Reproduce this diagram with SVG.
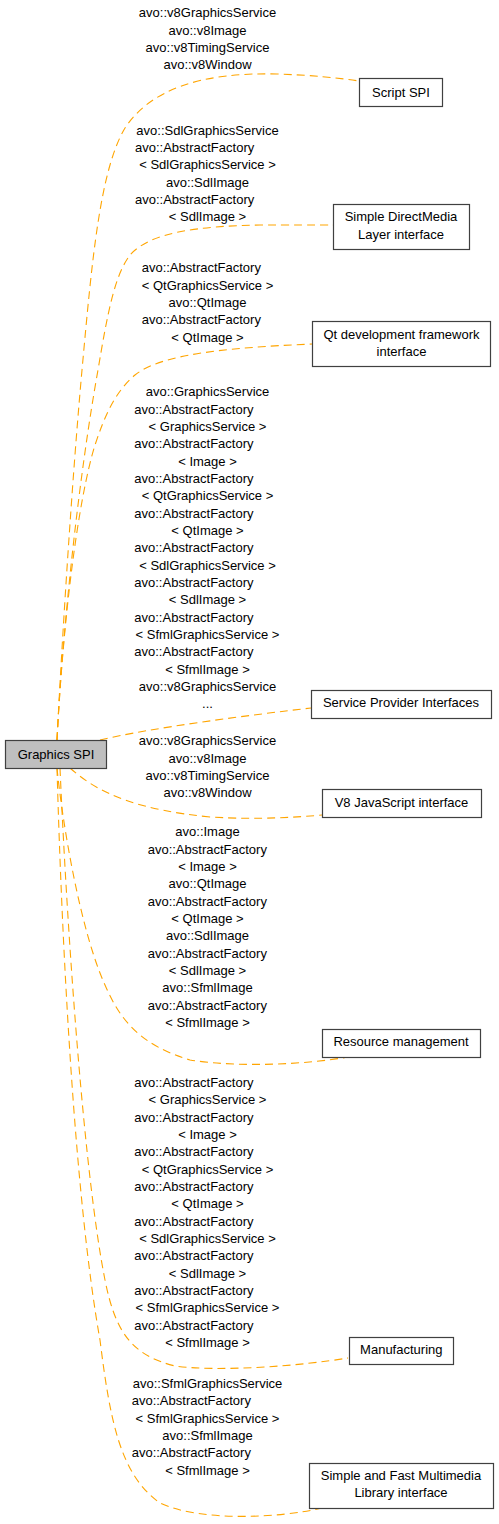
<svg xmlns="http://www.w3.org/2000/svg" width="499" height="1524" viewBox="0 0 499 1524">
<style>
.edge{fill:none;stroke:#FFA500;stroke-width:1.1;stroke-dasharray:8,5}
.node rect{fill:#ffffff;stroke:#404040;stroke-width:1.2}
#n_graphics rect{fill:#bfbfbf}
text{font-family:"Liberation Sans",Arial,sans-serif;font-size:13px;fill:#000}
.c{text-anchor:middle}
.l{text-anchor:start}
</style>
<rect width="499" height="1524" fill="#ffffff"/>
<g id="edges">
<path class="edge" d="M57,740 C62,640 72,480 82,370 C92,260 100,170 125,128 C150,90 200,72 277,74 C310,75 340,78 359,81"/>
<path class="edge" d="M57,740 C63,620 80,470 98,370 C108,310 115,275 130,255 C150,232 200,226 260,225 C290,225 315,225 333,225"/>
<path class="edge" d="M57,740 C63,620 78,500 95,445 C105,415 115,392 135,375 C160,355 220,348 312,344"/>
<path class="edge" d="M100,740 C150,728 250,715 311,708"/>
<path class="edge" d="M70,768 C100,795 140,810 210,817 C260,820 300,817 322,815"/>
<path class="edge" d="M57,768 C62,820 80,930 105,985 C120,1020 140,1045 190,1060 C240,1068 310,1064 348,1057"/>
<path class="edge" d="M60,768 C68,950 85,1180 105,1280 C115,1330 130,1355 175,1366 C220,1372 300,1366 348,1358"/>
<path class="edge" d="M57,768 C62,950 75,1200 100,1340 C110,1420 120,1475 160,1503 C200,1522 280,1518 322,1508"/>
</g>
<g id="edge_labels">
<g id="lbl_script">
<text class="c" x="207.5" y="17.4">avo::v8GraphicsService</text>
<text class="c" x="207.5" y="34.7">avo::v8Image</text>
<text class="c" x="207.5" y="52.1">avo::v8TimingService</text>
<text class="c" x="207.5" y="69.4">avo::v8Window</text>
</g>
<g id="lbl_sdl">
<text class="c" x="207.5" y="134.7">avo::SdlGraphicsService</text>
<text class="l" x="135" y="152">avo::AbstractFactory</text>
<text class="c" x="207.5" y="169.4">&lt; SdlGraphicsService &gt;</text>
<text class="c" x="207.5" y="186.7">avo::SdlImage</text>
<text class="l" x="135" y="204">avo::AbstractFactory</text>
<text class="c" x="207.5" y="221.4">&lt; SdlImage &gt;</text>
</g>
<g id="lbl_qt">
<text class="l" x="141.7" y="272.4">avo::AbstractFactory</text>
<text class="c" x="207.5" y="289.7">&lt; QtGraphicsService &gt;</text>
<text class="c" x="207.5" y="307.1">avo::QtImage</text>
<text class="l" x="141.7" y="324.4">avo::AbstractFactory</text>
<text class="c" x="207.5" y="341.7">&lt; QtImage &gt;</text>
</g>
<g id="lbl_spi">
<text class="c" x="207.5" y="396.4">avo::GraphicsService</text>
<text class="l" x="134.3" y="413.7">avo::AbstractFactory</text>
<text class="c" x="207.5" y="431.1">&lt; GraphicsService &gt;</text>
<text class="l" x="134.3" y="448.4">avo::AbstractFactory</text>
<text class="c" x="207.5" y="465.7">&lt; Image &gt;</text>
<text class="l" x="134.3" y="483.1">avo::AbstractFactory</text>
<text class="c" x="207.5" y="500.4">&lt; QtGraphicsService &gt;</text>
<text class="l" x="134.3" y="517.7">avo::AbstractFactory</text>
<text class="c" x="207.5" y="535.1">&lt; QtImage &gt;</text>
<text class="l" x="134.3" y="552.4">avo::AbstractFactory</text>
<text class="c" x="207.5" y="569.7">&lt; SdlGraphicsService &gt;</text>
<text class="l" x="134.3" y="587.1">avo::AbstractFactory</text>
<text class="c" x="207.5" y="604.4">&lt; SdlImage &gt;</text>
<text class="l" x="134.3" y="621.7">avo::AbstractFactory</text>
<text class="c" x="207.5" y="639.1">&lt; SfmlGraphicsService &gt;</text>
<text class="l" x="134.3" y="656.4">avo::AbstractFactory</text>
<text class="c" x="207.5" y="673.7">&lt; SfmlImage &gt;</text>
<text class="c" x="207.5" y="691.1">avo::v8GraphicsService</text>
<text class="c" x="207.5" y="708.4">...</text>
</g>
<g id="lbl_v8">
<text class="c" x="207.5" y="745.4">avo::v8GraphicsService</text>
<text class="c" x="207.5" y="762.7">avo::v8Image</text>
<text class="c" x="207.5" y="780.1">avo::v8TimingService</text>
<text class="c" x="207.5" y="797.4">avo::v8Window</text>
</g>
<g id="lbl_resource">
<text class="c" x="207.5" y="836.4">avo::Image</text>
<text class="l" x="147.7" y="853.7">avo::AbstractFactory</text>
<text class="c" x="207.5" y="871.1">&lt; Image &gt;</text>
<text class="c" x="207.5" y="888.4">avo::QtImage</text>
<text class="l" x="147.7" y="905.7">avo::AbstractFactory</text>
<text class="c" x="207.5" y="923.1">&lt; QtImage &gt;</text>
<text class="c" x="207.5" y="940.4">avo::SdlImage</text>
<text class="l" x="147.7" y="957.7">avo::AbstractFactory</text>
<text class="c" x="207.5" y="975.1">&lt; SdlImage &gt;</text>
<text class="c" x="207.5" y="992.4">avo::SfmlImage</text>
<text class="l" x="147.7" y="1009.7">avo::AbstractFactory</text>
<text class="c" x="207.5" y="1027.1">&lt; SfmlImage &gt;</text>
</g>
<g id="lbl_manufacturing">
<text class="l" x="134.3" y="1087">avo::AbstractFactory</text>
<text class="c" x="207.5" y="1104.3">&lt; GraphicsService &gt;</text>
<text class="l" x="134.3" y="1121.7">avo::AbstractFactory</text>
<text class="c" x="207.5" y="1139">&lt; Image &gt;</text>
<text class="l" x="134.3" y="1156.3">avo::AbstractFactory</text>
<text class="c" x="207.5" y="1173.7">&lt; QtGraphicsService &gt;</text>
<text class="l" x="134.3" y="1191">avo::AbstractFactory</text>
<text class="c" x="207.5" y="1208.3">&lt; QtImage &gt;</text>
<text class="l" x="134.3" y="1225.7">avo::AbstractFactory</text>
<text class="c" x="207.5" y="1243">&lt; SdlGraphicsService &gt;</text>
<text class="l" x="134.3" y="1260.3">avo::AbstractFactory</text>
<text class="c" x="207.5" y="1277.7">&lt; SdlImage &gt;</text>
<text class="l" x="134.3" y="1295">avo::AbstractFactory</text>
<text class="c" x="207.5" y="1312.3">&lt; SfmlGraphicsService &gt;</text>
<text class="l" x="134.3" y="1329.7">avo::AbstractFactory</text>
<text class="c" x="207.5" y="1347">&lt; SfmlImage &gt;</text>
</g>
<g id="lbl_sfml">
<text class="c" x="207.5" y="1388">avo::SfmlGraphicsService</text>
<text class="l" x="131.7" y="1405.3">avo::AbstractFactory</text>
<text class="c" x="207.5" y="1422.7">&lt; SfmlGraphicsService &gt;</text>
<text class="c" x="207.5" y="1440">avo::SfmlImage</text>
<text class="l" x="131.7" y="1457.3">avo::AbstractFactory</text>
<text class="c" x="207.5" y="1474.7">&lt; SfmlImage &gt;</text>
</g>
</g>
<g id="n_graphics" class="node">
<rect x="5.5" y="740.5" width="101" height="28"/>
<text class="c" x="56" y="759">Graphics SPI</text>
</g>
<g id="n_script" class="node">
<rect x="359.5" y="78.5" width="83" height="28"/>
<text class="c" x="401" y="96.7">Script SPI</text>
</g>
<g id="n_sdl" class="node">
<rect x="333.5" y="204.5" width="136" height="45"/>
<text class="c" x="401" y="221.4">Simple DirectMedia</text>
<text class="c" x="401" y="238.7">Layer interface</text>
</g>
<g id="n_qt" class="node">
<rect x="312.5" y="321.5" width="178" height="45"/>
<text class="c" x="401.5" y="339">Qt development framework</text>
<text class="c" x="401.5" y="356.4">interface</text>
</g>
<g id="n_spi" class="node">
<rect x="311.5" y="690.5" width="180" height="28"/>
<text class="c" x="401" y="707.4">Service Provider Interfaces</text>
</g>
<g id="n_v8" class="node">
<rect x="322.5" y="789.5" width="159" height="28"/>
<text class="c" x="401.5" y="807.4">V8 JavaScript interface</text>
</g>
<g id="n_resource" class="node">
<rect x="322.5" y="1029.5" width="158" height="28"/>
<text class="c" x="401" y="1046.4">Resource management</text>
</g>
<g id="n_manufacturing" class="node">
<rect x="349.5" y="1337.5" width="104" height="27"/>
<text class="c" x="401.3" y="1354">Manufacturing</text>
</g>
<g id="n_sfml" class="node">
<rect x="309.5" y="1463.5" width="184" height="45"/>
<text class="c" x="401" y="1479.7">Simple and Fast Multimedia</text>
<text class="c" x="401" y="1497.4">Library interface</text>
</g>
</svg>
